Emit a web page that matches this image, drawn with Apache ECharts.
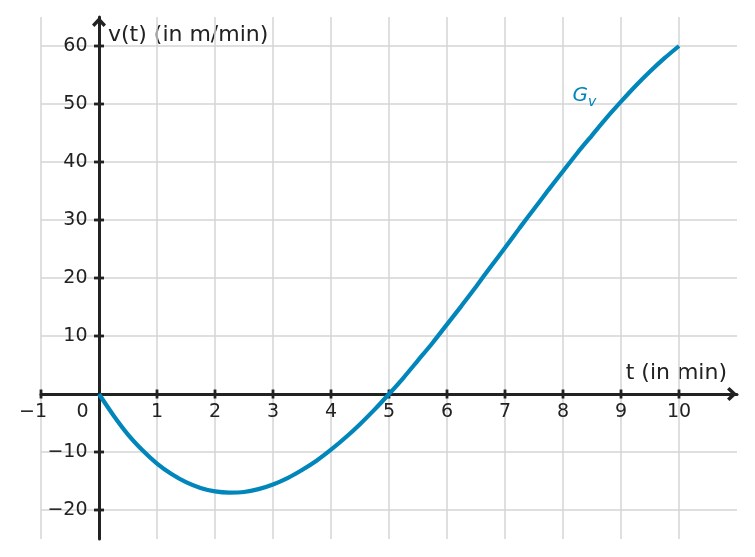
<!DOCTYPE html>
<html>
<head>
<meta charset="utf-8">
<script src="https://cdn.jsdelivr.net/npm/echarts@6/dist/echarts.min.js"></script>
<style>html,body{margin:0;padding:0;background:#fff}#c{width:755px;height:557px}</style>
</head>
<body>
<div id="c"></div>
<script>
const xTicks = [-1, 0, 1, 2, 3, 4, 5, 6, 7, 8, 9, 10];
const yTicks = [-20, -10, 0, 10, 20, 30, 40, 50, 60];
const tValues = [0, 0.25, 0.5, 0.75, 1, 1.25, 1.5, 1.75, 2, 2.25, 2.5, 2.75, 3, 3.25, 3.5, 3.75, 4, 4.25, 4.5, 4.75,
  5, 5.25, 5.5, 5.75, 6, 6.25, 6.5, 6.75, 7, 7.25, 7.5, 7.75, 8, 8.25, 8.5, 8.75, 9, 9.25, 9.5, 9.75, 10];
const vValues = [0, -3.7, -7.0, -9.7, -12.0, -13.8, -15.2, -16.2, -16.8, -17.0, -16.9, -16.4, -15.6, -14.5, -13.1, -11.5, -9.6, -7.5, -5.2, -2.7,
  0, 2.8, 5.8, 8.8, 12.0, 15.2, 18.5, 21.9, 25.2, 28.6, 31.9, 35.2, 38.4, 41.6, 44.6, 47.6, 50.4, 53.1, 55.6, 57.9, 60];
const curveLabel = { x: 8.37, y: 51.6, text: 'G', sub: 'v' };

const FONT = 'DejaVu Sans';
const INK = '#222222';
const BLUE = '#0086BA';
const GRIDC = '#d4d4d4';
const fmt = v => (v < 0 ? '\u2212' + (-v) : String(v));
const arrow = 'path://M50,0 L100,54 L83,71 L50,37 L17,71 L0,54 Z';
const tickLabel = { fontFamily: FONT, fontSize: 19, color: INK, lineHeight: 20, opacity: 1 };

const chart = echarts.init(document.getElementById('c'), null, { renderer: 'canvas' });
chart.setOption({
  animation: false,
  backgroundColor: '#fff',
  grid: { left: 41, right: 18, top: 17, bottom: 18, containLabel: false, outerBoundsMode: 'none' },
  xAxis: {
    type: 'value', min: -1, max: 11, interval: 1, z: 4,
    name: 't (in min)', nameLocation: 'end', nameGap: -10, nameMoveOverlap: false,
    nameTextStyle: { fontFamily: FONT, fontSize: 22, color: INK, align: 'right', verticalAlign: 'bottom', padding: [0, 0, 10, 0] },
    axisLine: { onZero: true, lineStyle: { color: INK, width: 3 }, symbol: ['none', arrow], symbolSize: [14, 10], symbolOffset: [0, -5] },
    axisTick: { show: false },
    splitLine: { show: false },
    axisLabel: { show: false }
  },
  yAxis: {
    type: 'value', min: -25, max: 65, interval: 5, z: 4,
    name: 'v(t) (in m/min)', nameLocation: 'end', nameGap: -18, nameMoveOverlap: false,
    nameTextStyle: { fontFamily: FONT, fontSize: 22, color: INK, align: 'left', verticalAlign: 'middle', padding: [0, 0, 0, 9] },
    axisLine: { onZero: true, lineStyle: { color: INK, width: 3 }, symbol: ['none', arrow], symbolSize: [14, 10], symbolOffset: [0, -5] },
    axisTick: { show: false },
    splitLine: { show: false },
    axisLabel: { show: false }
  },
  series: [
    {
      type: 'scatter', z: 0, silent: true, symbolSize: 0, data: [],
      markLine: {
        silent: true, symbol: ['none', 'none'], animation: false,
        label: { show: false },
        lineStyle: { color: GRIDC, width: 1.5, type: 'solid', opacity: 1 },
        data: yTicks.filter(v => v !== 0).map(v => ({ yAxis: v }))
          .concat(xTicks.filter(v => v !== 0).map(v => ({ xAxis: v })))
      }
    },
    {
      type: 'scatter', z: 5, silent: true, symbol: 'rect', symbolSize: [2.8, 9],
      itemStyle: { color: INK, opacity: 1 },
      label: Object.assign({ show: true, position: 'bottom', distance: 4, formatter: p => fmt(p.value[0]) }, tickLabel),
      data: xTicks.filter(v => v !== 0).map(v => ({ value: [v, 0], label: { offset: [v < 0 ? -8 : 0, 0] } }))
    },
    {
      type: 'scatter', z: 5, silent: true, symbol: 'rect', symbolSize: [10, 2.8],
      itemStyle: { color: INK, opacity: 1 },
      label: Object.assign({ show: true, position: 'left', distance: 6.5, formatter: p => fmt(p.value[1]) }, tickLabel),
      data: yTicks.filter(v => v !== 0).map(v => [0, v])
    },
    {
      type: 'scatter', z: 5, silent: true, symbol: 'circle', symbolSize: 0,
      itemStyle: { opacity: 1 },
      label: Object.assign({ show: true, position: 'bottom', distance: 8.5, offset: [-16.5, 0], formatter: p => fmt(p.value[0]) }, tickLabel),
      data: [[0, 0]]
    },
    {
      type: 'line', z: 6, smooth: 0.25, showSymbol: false, silent: true,
      lineStyle: { color: BLUE, width: 4.2 },
      data: tValues.map((t, i) => [t, vValues[i]]),
      markPoint: {
        silent: true, symbol: 'circle', symbolSize: 0,
        label: {
          show: true, position: 'inside',
          formatter: '{g|' + curveLabel.text + '}{s|' + curveLabel.sub + '}',
          rich: {
            g: { fontFamily: FONT, fontStyle: 'italic', fontSize: 20, color: BLUE, verticalAlign: 'bottom', lineHeight: 22 },
            s: { fontFamily: FONT, fontStyle: 'italic', fontSize: 14, color: BLUE, verticalAlign: 'bottom', lineHeight: 22, padding: [0, 0, -4, 0] }
          }
        },
        data: [{ coord: [curveLabel.x, curveLabel.y] }]
      }
    }
  ]
});
</script>
</body>
</html>
